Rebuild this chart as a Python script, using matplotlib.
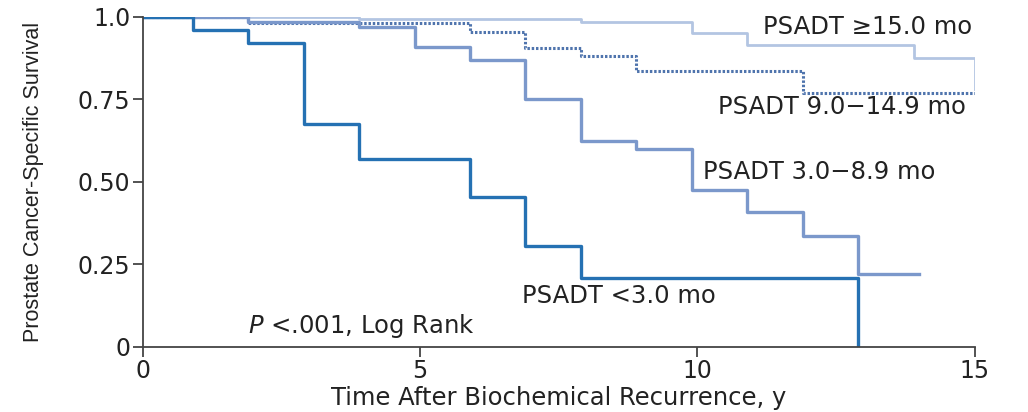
import numpy as np
import matplotlib
matplotlib.use("Agg")
import matplotlib.pyplot as plt

plt.rcParams['font.family'] = ['DejaVu Sans']

# Kaplan-Meier steps (year, survival) per PSADT group
t_lt3 = [0, 0.9, 1.9, 2.9, 3.9, 5.9, 6.9, 7.9, 12.9]
s_lt3 = [1.0, 0.96, 0.92, 0.675, 0.57, 0.455, 0.305, 0.21, 0.0]

t_3_9 = [0, 1.9, 3.9, 4.9, 5.9, 6.9, 7.9, 8.9, 9.9, 10.9, 11.9, 12.9, 14]
s_3_9 = [1.0, 0.985, 0.97, 0.91, 0.87, 0.75, 0.625, 0.60, 0.475, 0.41, 0.335, 0.22, 0.22]

t_9_15 = [0, 1.9, 5.9, 6.9, 7.9, 8.9, 11.9, 15]
s_9_15 = [1.0, 0.98, 0.955, 0.905, 0.88, 0.835, 0.77, 0.77]

t_ge15 = [0, 3.9, 7.9, 9.9, 10.9, 13.9, 15]
s_ge15 = [1.0, 0.995, 0.985, 0.95, 0.915, 0.875, 0.78]

labels = ["PSADT \u226515.0 mo", "PSADT 9.0\u221214.9 mo", "PSADT 3.0\u22128.9 mo", "PSADT <3.0 mo"]

xtics = [0, 5, 10, 15]
ytics = [0, 0.25, 0.50, 0.75, 1.0]
ytic_labels = ["0", "0.25", "0.50", "0.75", "1.0"]

fig = plt.figure(figsize=(10.28, 4.12), dpi=100)
ax1 = fig.add_axes([0.139, 0.158, 0.809, 0.801])

ax1.step(t_ge15, s_ge15, where="post", color="#b3c5e2", lw=2.0)
ax1.step(t_9_15, s_9_15, where="post", color="#4f74ad", lw=2.2, linestyle=(0, (0.8, 0.6)))
ax1.step(t_3_9, s_3_9, where="post", color="#7b98cb", lw=2.4)
ax1.step(t_lt3, s_lt3, where="post", color="#2571b3", lw=2.4)

ax1.set_xlim(0, 15)
ax1.set_ylim(0, 1.0)
ax1.spines["top"].set_visible(False)
ax1.spines["right"].set_visible(False)
for s in ["left", "bottom"]:
    ax1.spines[s].set_color("#444444")
    ax1.spines[s].set_linewidth(1.3)

ax1.set_xticks(xtics)
ax1.set_xticklabels(xtics)
ax1.set_yticks(ytics)
ax1.set_yticklabels(ytic_labels)
ax1.tick_params(axis="both", direction="out", length=7, width=1.3, color="#444444",
                labelsize=17, labelcolor="#222222", pad=2)

ax1.set_xlabel("Time After Biochemical Recurrence, y", fontsize=17.5, color="#222222", labelpad=2)
ax1.set_ylabel("Prostate Cancer-Specific Survival", fontsize=15.5, color="#222222",
               family=['Liberation Sans', 'DejaVu Sans'], labelpad=24)

txt = dict(fontsize=17.5, color="#222222", va="center", ha="left")
ax1.text(11.18, 0.97, labels[0], **txt)
ax1.text(10.37, 0.727, labels[1], **txt)
ax1.text(10.1, 0.53, labels[2], **txt)
ax1.text(6.83, 0.155, labels[3], **txt)
ax1.text(1.89, 0.064, r"$\it{P}$ <.001, Log Rank", **txt)

plt.savefig("out.png", dpi=100)
